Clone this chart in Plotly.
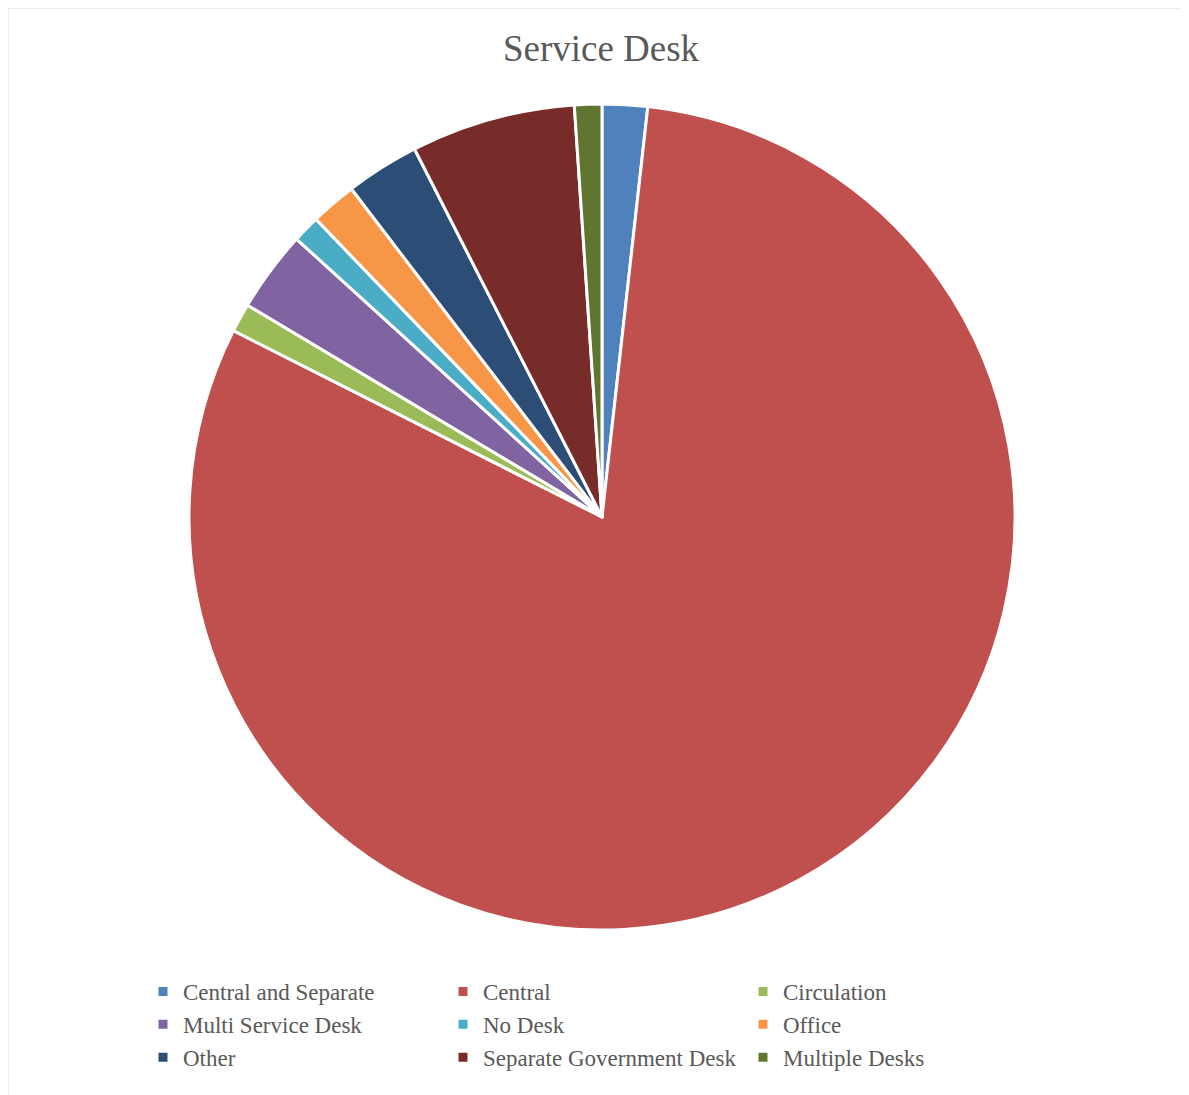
import plotly.graph_objects as go

categories = ["Central and Separate", "Central", "Circulation", "Multi Service Desk",
              "No Desk", "Office", "Other", "Separate Government Desk", "Multiple Desks"]
values = [1.77, 80.68, 1.12, 3.18, 1.07, 1.80, 2.88, 6.43, 1.07]
colors = ["#4F81BD", "#C0504D", "#9BBB59", "#8064A2", "#4BACC6",
          "#F79646", "#2C4D75", "#772C2A", "#5F7530"]

OFF = 8  # page body margin
W, H = 1189 - OFF, 1095 - OFF
cx, cy, r = 602 - OFF, 517 - OFF, 413

fig = go.Figure(go.Pie(
    labels=categories,
    values=values,
    sort=False,
    direction="clockwise",
    rotation=0,
    marker=dict(colors=colors, line=dict(color="white", width=3)),
    textinfo="none",
    hoverinfo="label+value",
    domain=dict(x=[(cx - r) / W, (cx + r) / W], y=[1 - (cy + r) / H, 1 - (cy - r) / H]),
))

fig.update_layout(
    width=W, height=H,
    margin=dict(l=0, r=0, t=0, b=0),
    paper_bgcolor="white",
    font=dict(family="Liberation Serif, Times New Roman, serif", color="#595959"),
    title=dict(text="Service Desk", x=(601 - OFF) / W, xanchor="center",
               y=1 - (48 - OFF) / H, yanchor="middle", yref="container",
               font=dict(size=37, color="#595959", family="Liberation Serif")),
    showlegend=True,
    legend=dict(orientation="h", x=(143 - OFF) / W, xanchor="left",
                y=1 - (970 - OFF) / H, yanchor="top",
                font=dict(size=23, color="#595959", family="Liberation Serif"),
                entrywidth=255, entrywidthmode="pixels", traceorder="normal",
                bgcolor="rgba(0,0,0,0)"),
    shapes=[dict(type="rect", xref="paper", yref="paper",
                 x0=(7 - OFF + 0.5) / W, x1=1.02, y0=-0.02, y1=1 - (7 - OFF + 0.5) / H,
                 line=dict(color="#d9d9d9", width=2), fillcolor="rgba(0,0,0,0)")],
)

fig.write_html("out.html")
